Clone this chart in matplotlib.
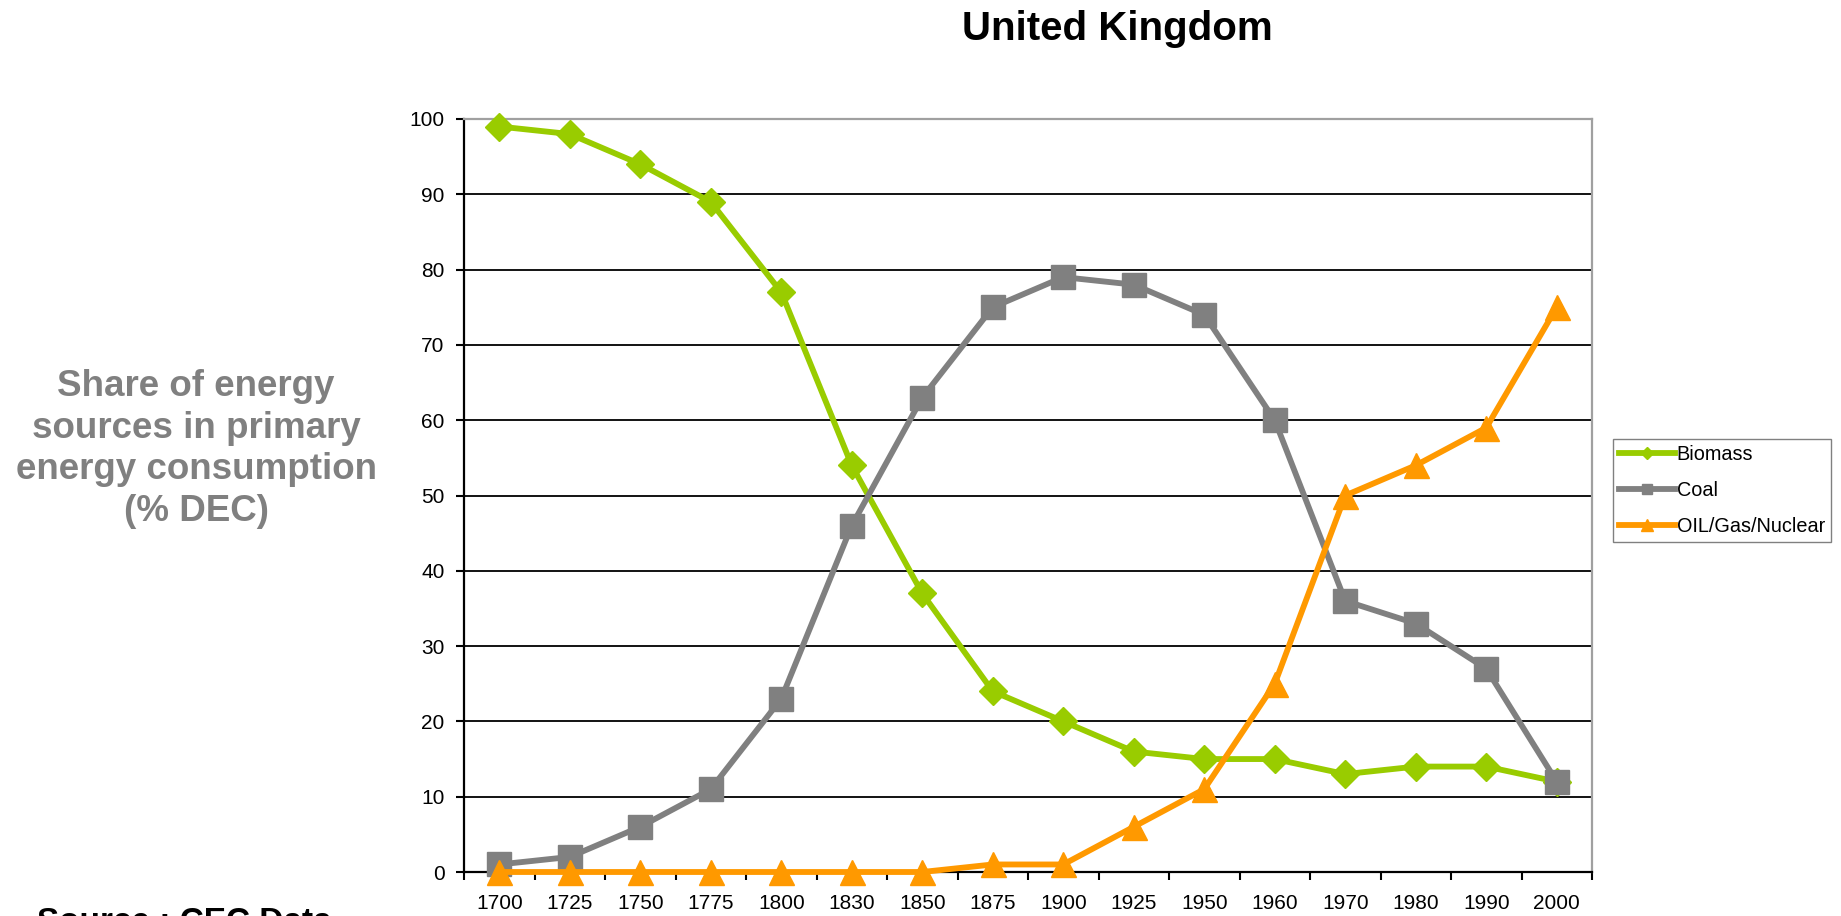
import numpy as np
import matplotlib
matplotlib.use('Agg')
import matplotlib.pyplot as plt

plt.rcParams['font.family'] = ['Liberation Sans', 'DejaVu Sans']

# data (% of primary energy consumption)
years = ['1700', '1725', '1750', '1775', '1800', '1830', '1850', '1875',
         '1900', '1925', '1950', '1960', '1970', '1980', '1990', '2000']
biomass = [99, 98, 94, 89, 77, 54, 37, 24, 20, 16, 15, 15, 13, 14, 14, 12]
coal = [1, 2, 6, 11, 23, 46, 63, 75, 79, 78, 74, 60, 36, 33, 27, 12]
oil_gas_nuclear = [0, 0, 0, 0, 0, 0, 0, 1, 1, 6, 11, 25, 50, 54, 59, 75]

W, H = 1841, 916
fig = plt.figure(figsize=(W / 100, H / 100), dpi=100)
ax = fig.add_axes([464 / W, 1 - 872 / H, (1592 - 464) / W, (872 - 119) / H])

x = np.arange(len(years))
ax.plot(x, biomass, color='#99CC00', lw=4.2, marker='D', ms=14.5,
        mec='#99CC00', mfc='#99CC00', label='Biomass', clip_on=False, zorder=3)
ax.plot(x, coal, color='#808080', lw=4.2, marker='s', ms=17,
        mec='#808080', mfc='#808080', label='Coal', clip_on=False, zorder=4)
ax.plot(x, oil_gas_nuclear, color='#FF9900', lw=4.2, marker='^', ms=18,
        mec='#FF9900', mfc='#FF9900', label='OIL/Gas/Nuclear', clip_on=False, zorder=5)

ax.set_xlim(-0.5, len(years) - 0.5)
ax.set_ylim(0, 100)

# ticks between categories, labels centred on categories
ax.set_xticks(np.arange(-0.5, len(years), 1))
ax.set_xticklabels([])
ax.set_xticks(x, minor=True)
ax.set_xticklabels(years, minor=True)
ax.tick_params(axis='x', which='major', direction='out', length=6, width=1.5)
ax.tick_params(axis='x', which='minor', length=0, pad=16, labelsize=15)

ax.set_yticks(range(0, 101, 10))
ax.tick_params(axis='y', direction='out', length=6, width=1.5, pad=8, labelsize=15)
ax.yaxis.grid(True, color='black', lw=1.3)
ax.set_axisbelow(True)

for side in ['left', 'bottom']:
    ax.spines[side].set_color('black')
    ax.spines[side].set_linewidth(1.6)
for side in ['top', 'right']:
    ax.spines[side].set_color('#a0a0a0')
    ax.spines[side].set_linewidth(1.6)

leg = fig.legend(loc='upper left', bbox_to_anchor=(1613 / W, 1 - 439 / H),
                 borderaxespad=0, fontsize=14.3, handlelength=2.8, handletextpad=0.1,
                 labelspacing=0.85, borderpad=0.3, markerscale=0.45,
                 fancybox=False, framealpha=1, edgecolor='#808080')
leg.get_frame().set_linewidth(1.0)

fig.text(0.607, 1 - 40 / H, 'United Kingdom', fontsize=29, fontweight='bold',
         ha='center', va='baseline')

fig.text(196 / W, 1 - 449 / H,
         'Share of energy\nsources in primary\nenergy consumption\n(% DEC)',
         fontsize=26.5, fontweight='bold', color='#808080',
         ha='center', va='center', multialignment='center', linespacing=1.25)

fig.text(37 / W, -0.0164, 'Source : CEC Data', fontsize=24, fontweight='bold',
         ha='left', va='baseline')

fig.savefig('out.png', dpi=100)
